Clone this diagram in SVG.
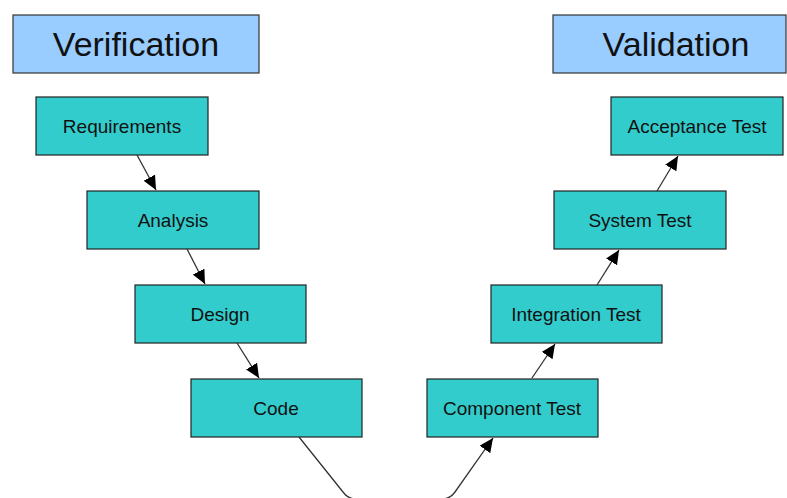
<svg xmlns="http://www.w3.org/2000/svg" width="787" height="498" viewBox="0 0 787 498">
  <defs>
    <marker id="arrow" viewBox="0 0 14 13" refX="14" refY="6.5" markerWidth="14" markerHeight="13" markerUnits="userSpaceOnUse" orient="auto">
      <path d="M0,0 L14,6.5 L0,13 Z" fill="#000"/>
    </marker>
    <style>
      .head rect { fill: #99ccff; stroke: #333; stroke-width: 1.2; }
      .head text { font-family: "Liberation Sans", Arial, sans-serif; font-size: 34px; fill: #111; text-anchor: middle; }
      .node rect { fill: #33cccc; stroke: #222; stroke-width: 1.2; }
      .node text { font-family: "Liberation Sans", Arial, sans-serif; font-size: 19px; fill: #111; text-anchor: middle; }
      .edges path { fill: none; stroke: #333; stroke-width: 1.3; }
    </style>
  </defs>
  <rect width="787" height="498" fill="#fff"/>

  <!-- column headers -->
  <g id="verification" class="head">
    <rect x="13" y="15" width="246" height="58"/>
    <text x="136" y="56">Verification</text>
  </g>
  <g id="validation" class="head">
    <rect x="553" y="15" width="233" height="58"/>
    <text x="676" y="56">Validation</text>
  </g>

  <!-- left leg -->
  <g id="requirements" class="node">
    <rect x="36" y="97" width="172" height="58"/>
    <text x="122" y="133">Requirements</text>
  </g>
  <g id="analysis" class="node">
    <rect x="87" y="191" width="172" height="58"/>
    <text x="173" y="227">Analysis</text>
  </g>
  <g id="design" class="node">
    <rect x="135" y="285" width="171" height="58"/>
    <text x="220" y="321">Design</text>
  </g>
  <g id="code" class="node">
    <rect x="191" y="379" width="171" height="58"/>
    <text x="276" y="415">Code</text>
  </g>

  <!-- right leg -->
  <g id="component-test" class="node">
    <rect x="427" y="379" width="171" height="58"/>
    <text x="512" y="415">Component Test</text>
  </g>
  <g id="integration-test" class="node">
    <rect x="491" y="285" width="171" height="58"/>
    <text x="576" y="321">Integration Test</text>
  </g>
  <g id="system-test" class="node">
    <rect x="554" y="191" width="172" height="58"/>
    <text x="640" y="227">System Test</text>
  </g>
  <g id="acceptance-test" class="node">
    <rect x="611" y="97" width="172" height="58"/>
    <text x="697" y="133">Acceptance Test</text>
  </g>

  <!-- connectors -->
  <g id="edges" class="edges">
    <path d="M137,155 L156,190" marker-end="url(#arrow)"/>
    <path d="M187,249 L205,284" marker-end="url(#arrow)"/>
    <path d="M237,343 L259,378" marker-end="url(#arrow)"/>
    <path d="M299,437 L343,492 Q348,499 356,499 L442,499 Q450,499 455,492 L493,438" marker-end="url(#arrow)"/>
    <path d="M532,378 L555,344" marker-end="url(#arrow)"/>
    <path d="M597,285 L619,250" marker-end="url(#arrow)"/>
    <path d="M657,191 L678,156" marker-end="url(#arrow)"/>
  </g>
</svg>
